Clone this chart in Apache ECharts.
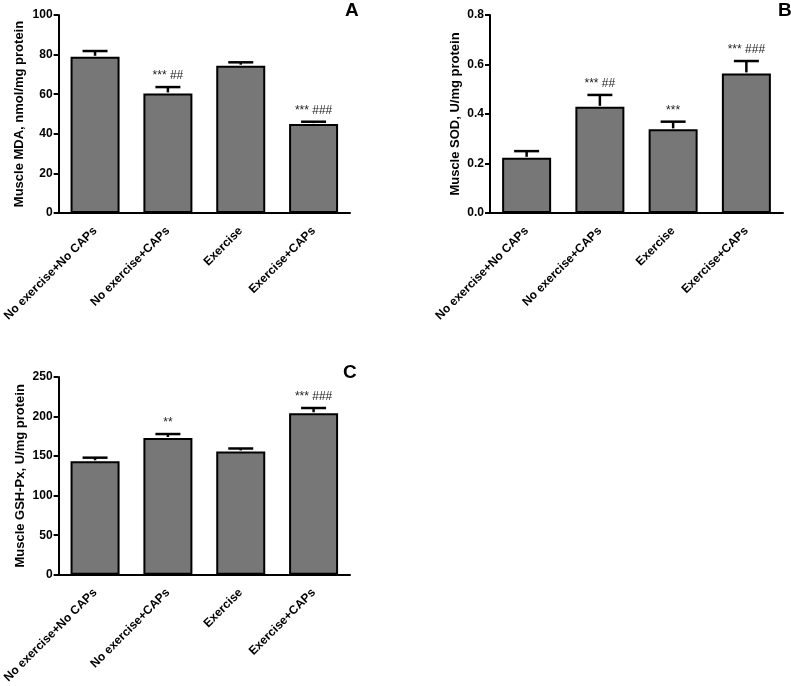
<!DOCTYPE html>
<html>
<head>
<meta charset="utf-8">
<script src="https://cdn.jsdelivr.net/npm/echarts@6/dist/echarts.min.js"></script>
<style>
  html, body { margin: 0; padding: 0; background: #fff; }
  #chart { width: 791px; height: 686px; }
</style>
</head>
<body>
<div id="chart"></div>
<script>
const categories = ['No exercise+No CAPs', 'No exercise+CAPs', 'Exercise', 'Exercise+CAPs']

// panel A - MDA
const mdaMean = [78.9, 60.4, 74.4, 44.9]
const mdaErr = [2.9, 3.2, 1.7, 1.2]
const mdaMarks = ['', '*** ##', '', '*** ###']

// panel B - SOD
const sodMean = [0.223, 0.429, 0.338, 0.564]
const sodErr = [0.027, 0.048, 0.031, 0.050]
const sodMarks = ['', '*** ##', '***', '*** ###']

// panel C - GSH-Px
const gshMean = [143.4, 172.9, 155.9, 204.2]
const gshErr = [4.6, 5.0, 3.7, 6.6]
const gshMarks = ['', '**', '', '*** ###']

const font = 'Liberation Sans, Arial, sans-serif'
const barColor = '#777777'

const panels = [
  { mean: mdaMean, err: mdaErr, marks: mdaMarks, name: 'Muscle MDA, nmol/mg protein',
    min: 0, max: 100, interval: 20, digits: 0, nameGap: 33,
    grid: { left: 57, top: 15, width: 293, height: 198 } },
  { mean: sodMean, err: sodErr, marks: sodMarks, name: 'Muscle SOD, U/mg protein',
    min: 0, max: 0.8, interval: 0.2, digits: 1, nameGap: 28,
    grid: { left: 490, top: 15, width: 293, height: 198 } },
  { mean: gshMean, err: gshErr, marks: gshMarks, name: 'Muscle GSH-Px, U/mg protein',
    min: 0, max: 250, interval: 50, digits: 0, nameGap: 32,
    grid: { left: 57, top: 377, width: 293, height: 200 } }
]

const grid = []
const xAxis = []
const yAxis = []
const series = []

panels.forEach(function(p, k) {
  grid.push(p.grid)
  xAxis.push({
    type: 'category',
    gridIndex: k,
    data: categories,
    axisLine: { lineStyle: { color: '#000', width: 2 } },
    axisTick: { alignWithLabel: true, length: 5, lineStyle: { color: '#000', width: 2 } },
    axisLabel: {
      rotate: 45,
      margin: 16,
      color: '#000',
      fontWeight: 'bold',
      fontSize: 12,
      fontFamily: font
    }
  })
  yAxis.push({
    type: 'value',
    gridIndex: k,
    min: p.min,
    max: p.max,
    interval: p.interval,
    name: p.name,
    nameLocation: 'middle',
    nameGap: p.nameGap,
    nameTextStyle: { color: '#000', fontWeight: 'bold', fontSize: 13, fontFamily: font },
    splitLine: { show: false },
    axisLine: { show: true, lineStyle: { color: '#000', width: 2 } },
    axisTick: { show: true, inside: false, length: 5, lineStyle: { color: '#000', width: 2 } },
    axisLabel: {
      margin: 6,
      color: '#000',
      fontWeight: 'bold',
      fontSize: 12,
      fontFamily: font,
      formatter: function(v) { return v.toFixed(p.digits) }
    }
  })
  series.push({
    type: 'bar',
    xAxisIndex: k,
    yAxisIndex: k,
    barWidth: 49,
    data: p.mean,
    itemStyle: { color: barColor, borderColor: '#000', borderWidth: 2 },
    z: 2
  })
  series.push({
    type: 'custom',
    xAxisIndex: k,
    yAxisIndex: k,
    z: 3,
    data: p.mean.map(function(m, i) { return [i, m, m + p.err[i]] }),
    renderItem: function(params, api) {
      const base = api.coord([api.value(0), api.value(1)])
      const top = api.coord([api.value(0), api.value(2)])
      const x = base[0]
      const children = [
        { type: 'line', shape: { x1: x, y1: base[1] - 1, x2: x, y2: top[1] },
          style: { stroke: '#000', lineWidth: 2.5 } },
        { type: 'line', shape: { x1: x - 12.5, y1: top[1], x2: x + 12.5, y2: top[1] },
          style: { stroke: '#000', lineWidth: 2.5 } }
      ]
      const mark = p.marks[params.dataIndex]
      if (mark) {
        children.push({
          type: 'text',
          style: {
            text: mark, x: x, y: top[1] - 11,
            align: 'center', verticalAlign: 'middle',
            fill: '#222', fontSize: 12, fontFamily: font
          }
        })
      }
      return { type: 'group', children: children }
    }
  })
})

const letterStyle = { fill: '#000', fontSize: 19, fontWeight: 'bold', fontFamily: font }

const chart = echarts.init(document.getElementById('chart'))
chart.setOption({
  animation: false,
  backgroundColor: '#fff',
  grid: grid,
  xAxis: xAxis,
  yAxis: yAxis,
  series: series,
  graphic: [
    { type: 'text', left: 345, top: 1, style: Object.assign({ text: 'A' }, letterStyle) },
    { type: 'text', left: 778, top: 1, style: Object.assign({ text: 'B' }, letterStyle) },
    { type: 'text', left: 343, top: 363, style: Object.assign({ text: 'C' }, letterStyle) }
  ]
})
</script>
</body>
</html>
